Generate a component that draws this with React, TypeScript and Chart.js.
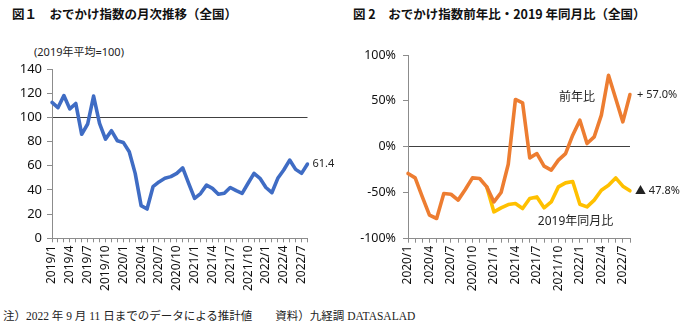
import React, { useEffect, useRef } from 'react';
import { Chart, registerables } from 'chart.js';

Chart.register(...registerables);

// ---------- Data ----------
const leftLabels = [
  '2019/1', '2019/2', '2019/3', '2019/4', '2019/5', '2019/6', '2019/7', '2019/8', '2019/9', '2019/10', '2019/11', '2019/12',
  '2020/1', '2020/2', '2020/3', '2020/4', '2020/5', '2020/6', '2020/7', '2020/8', '2020/9', '2020/10', '2020/11', '2020/12',
  '2021/1', '2021/2', '2021/3', '2021/4', '2021/5', '2021/6', '2021/7', '2021/8', '2021/9', '2021/10', '2021/11', '2021/12',
  '2022/1', '2022/2', '2022/3', '2022/4', '2022/5', '2022/6', '2022/7', '2022/8',
];
const odekakeIndex = [
  112.4, 108, 118, 107, 111.5, 86, 94.5, 117.6, 95, 82, 89, 80.7,
  79.3, 71.6, 53.7, 27, 24.2, 42.7, 46.6, 49.6, 51, 53.7, 58.2, 45.5,
  33, 37, 44, 41.3, 36.4, 37.2, 42, 39.4, 37.2, 45.5, 53.7, 49.6,
  42, 37.7, 49.6, 56.5, 64.7, 57, 53.7, 61.4,
];

const rightLabels = [
  '2020/1', '2020/2', '2020/3', '2020/4', '2020/5', '2020/6', '2020/7', '2020/8', '2020/9', '2020/10', '2020/11', '2020/12',
  '2021/1', '2021/2', '2021/3', '2021/4', '2021/5', '2021/6', '2021/7', '2021/8', '2021/9', '2021/10', '2021/11', '2021/12',
  '2022/1', '2022/2', '2022/3', '2022/4', '2022/5', '2022/6', '2022/7', '2022/8',
];
const yoyChange = [
  -29, -33.8, -54.5, -74.4, -78, -50.8, -51.6, -58, -46.5, -33.8, -34.5, -43.6,
  -60, -49.7, -18.9, 51.6, 48, -12, -7.3, -21, -25.4, -14.5, -7.3, 12.7,
  29, 3.6, 10.9, 34.5, 78, 52.7, 27.2, 57,
];
const vs2019Change = [
  null, null, null, null, null, null, null, null, null, null, null, -43.6,
  -70.8, -66.4, -62.8, -61.7, -67.2, -56.3, -54.5, -66.4, -60, -43.6, -39.2, -37.8,
  -62.5, -65.4, -58, -47.2, -41.8, -33.8, -42.8, -47.8,
];

const leftTicks = [0, 20, 40, 60, 80, 100, 120, 140];
const rightTicks = [-100, -50, 0, 50, 100];

const leftNote = { text: '61.4', index: 43, value: 61.4 };
const rightNotes = [
  { text: '+ 57.0%', index: 31, value: 57, dx: 7, align: 'left' },
  { text: '▲ 47.8%', index: 31, value: -47.8, dx: 5, align: 'left' },
  { text: '前年比', index: 23.6, value: 53.4, dx: 0, align: 'center' },
  { text: '2019年同月比', index: 23.4, value: -81.7, dx: 0, align: 'center' },
];

const FONT = '"Noto Sans", "Noto Sans CJK JP", sans-serif';
const AXIS_GRAY = '#8c8c8c';
const LINE_DARK = '#404040';

type Note = { text: string; index: number; value: number; dx?: number; align?: string; size?: number };

function notesPlugin(notes: Note[]) {
  return {
    id: 'notes',
    afterDatasetsDraw(chart: any) {
      const ctx = chart.ctx;
      const xs = chart.scales.x;
      const ys = chart.scales.y;
      ctx.save();
      notes.forEach((n) => {
        const x = xs.getPixelForValue(n.index) + (n.dx ?? 0);
        const y = ys.getPixelForValue(n.value);
        ctx.font = `${n.size ?? 11}px ${FONT}`;
        ctx.fillStyle = '#222';
        ctx.textAlign = (n.align as CanvasTextAlign) ?? 'left';
        ctx.textBaseline = 'middle';
        ctx.fillText(n.text, x, y);
      });
      ctx.restore();
    },
  };
}

function makeXScale(labels: string[], height: number) {
  return {
    type: 'category' as const,
    offset: false,
    grid: {
      display: true,
      drawOnChartArea: false,
      drawTicks: true,
      tickLength: 4,
      tickColor: AXIS_GRAY,
    },
    border: { display: true, color: AXIS_GRAY, width: 1 },
    ticks: {
      autoSkip: false,
      minRotation: 90,
      maxRotation: 90,
      padding: 3,
      color: '#111',
      font: { family: FONT, size: 12 },
      callback: (_v: any, i: number) => (i % 3 === 0 ? labels[i] : ''),
    },
    afterFit: (scale: any) => {
      scale.height = height;
    },
  };
}

function LeftChart() {
  const ref = useRef<HTMLCanvasElement>(null);
  useEffect(() => {
    const chart = new Chart(ref.current!, {
      type: 'line',
      data: {
        labels: leftLabels,
        datasets: [
          {
            data: odekakeIndex,
            borderColor: '#3f6cc4',
            borderWidth: 3.6,
            pointRadius: 0,
            tension: 0,
            borderJoinStyle: 'round',
            borderCapStyle: 'round',
          },
        ],
      },
      options: {
        animation: false,
        responsive: false,
        events: [],
        layout: { padding: { top: 69, right: 32.5, bottom: 0, left: 0 } },
        plugins: { legend: { display: false }, tooltip: { enabled: false } },
        scales: {
          x: makeXScale(leftLabels, 61.7),
          y: {
            min: 0,
            max: 140,
            afterBuildTicks: (scale: any) => {
              scale.ticks = leftTicks.map((v) => ({ value: v }));
            },
            grid: {
              display: true,
              drawTicks: true,
              tickLength: 5,
              tickColor: AXIS_GRAY,
              color: (c: any) => (c.tick && c.tick.value === 100 ? LINE_DARK : 'rgba(0,0,0,0)'),
            },
            border: { display: true, color: AXIS_GRAY, width: 1 },
            ticks: {
              padding: 5,
              color: '#111',
              font: { family: FONT, size: 13 },
            },
            afterFit: (scale: any) => {
              scale.width = 52;
            },
          },
        },
      },
      plugins: [notesPlugin([{ ...leftNote, dx: 5, size: 11 }])],
    } as any);
    return () => chart.destroy();
  }, []);
  return <canvas ref={ref} width={340} height={300} style={{ position: 'absolute', left: 0, top: 0 }} />;
}

function RightChart() {
  const ref = useRef<HTMLCanvasElement>(null);
  useEffect(() => {
    const chart = new Chart(ref.current!, {
      type: 'line',
      data: {
        labels: rightLabels,
        datasets: [
          {
            data: yoyChange,
            borderColor: '#ed7d31',
            borderWidth: 3.6,
            pointRadius: 0,
            tension: 0,
            borderJoinStyle: 'round',
            borderCapStyle: 'round',
            order: 1,
          },
          {
            data: vs2019Change,
            borderColor: '#ffc000',
            borderWidth: 3.6,
            pointRadius: 0,
            tension: 0,
            spanGaps: false,
            borderJoinStyle: 'round',
            borderCapStyle: 'round',
            order: 2,
          },
        ],
      },
      options: {
        animation: false,
        responsive: false,
        events: [],
        layout: { padding: { top: 55, right: 50, bottom: 0, left: 0 } },
        plugins: { legend: { display: false }, tooltip: { enabled: false } },
        scales: {
          x: makeXScale(rightLabels, 61.3),
          y: {
            min: -100,
            max: 100,
            afterBuildTicks: (scale: any) => {
              scale.ticks = rightTicks.map((v) => ({ value: v }));
            },
            grid: {
              display: true,
              drawTicks: true,
              tickLength: 5,
              tickColor: AXIS_GRAY,
              color: (c: any) => (c.tick && c.tick.value === 0 ? LINE_DARK : 'rgba(0,0,0,0)'),
            },
            border: { display: true, color: AXIS_GRAY, width: 1 },
            ticks: {
              padding: 7,
              color: '#111',
              font: { family: FONT, size: 12.5 },
              callback: (v: any) => `${v}%`,
            },
            afterFit: (scale: any) => {
              scale.width = 68;
            },
          },
        },
      },
      plugins: [notesPlugin(rightNotes.map((n) => ({ ...n, size: n.text.includes('比') ? 12 : 11 })))],
    } as any);
    return () => chart.destroy();
  }, []);
  return <canvas ref={ref} width={340} height={300} style={{ position: 'absolute', left: 340, top: 0 }} />;
}

const titleStyle: React.CSSProperties = {
  position: 'absolute',
  top: 5,
  fontFamily: '"Noto Sans CJK JP", sans-serif',
  fontWeight: 700,
  fontSize: 12.5,
  lineHeight: '18px',
  color: '#111',
  whiteSpace: 'nowrap',
};

export default function App() {
  return (
    <div style={{ position: 'absolute', left: 0, top: 0, width: 680, height: 327, background: '#fff', overflow: 'hidden' }}>
      <div style={{ ...titleStyle, left: 12 }}>図１　おでかけ指数の月次推移（全国）</div>
      <div style={{ ...titleStyle, left: 353 }}>図 2　おでかけ指数前年比・2019 年同月比（全国）</div>
      <div
        style={{
          position: 'absolute',
          left: 34,
          top: 45,
          fontFamily: FONT,
          fontSize: 11,
          lineHeight: '14px',
          color: '#222',
          whiteSpace: 'nowrap',
        }}
      >
        (2019年平均=100)
      </div>
      <LeftChart />
      <RightChart />
      <div
        style={{
          position: 'absolute',
          left: 3,
          top: 308,
          fontFamily: '"Liberation Serif", "Noto Sans CJK JP", serif',
          fontSize: 11.5,
          lineHeight: '16px',
          color: '#222',
          whiteSpace: 'nowrap',
        }}
      >
        注）2022 年 9 月 11 日までのデータによる推計値　　資料）九経調 DATASALAD
      </div>
    </div>
  );
}
